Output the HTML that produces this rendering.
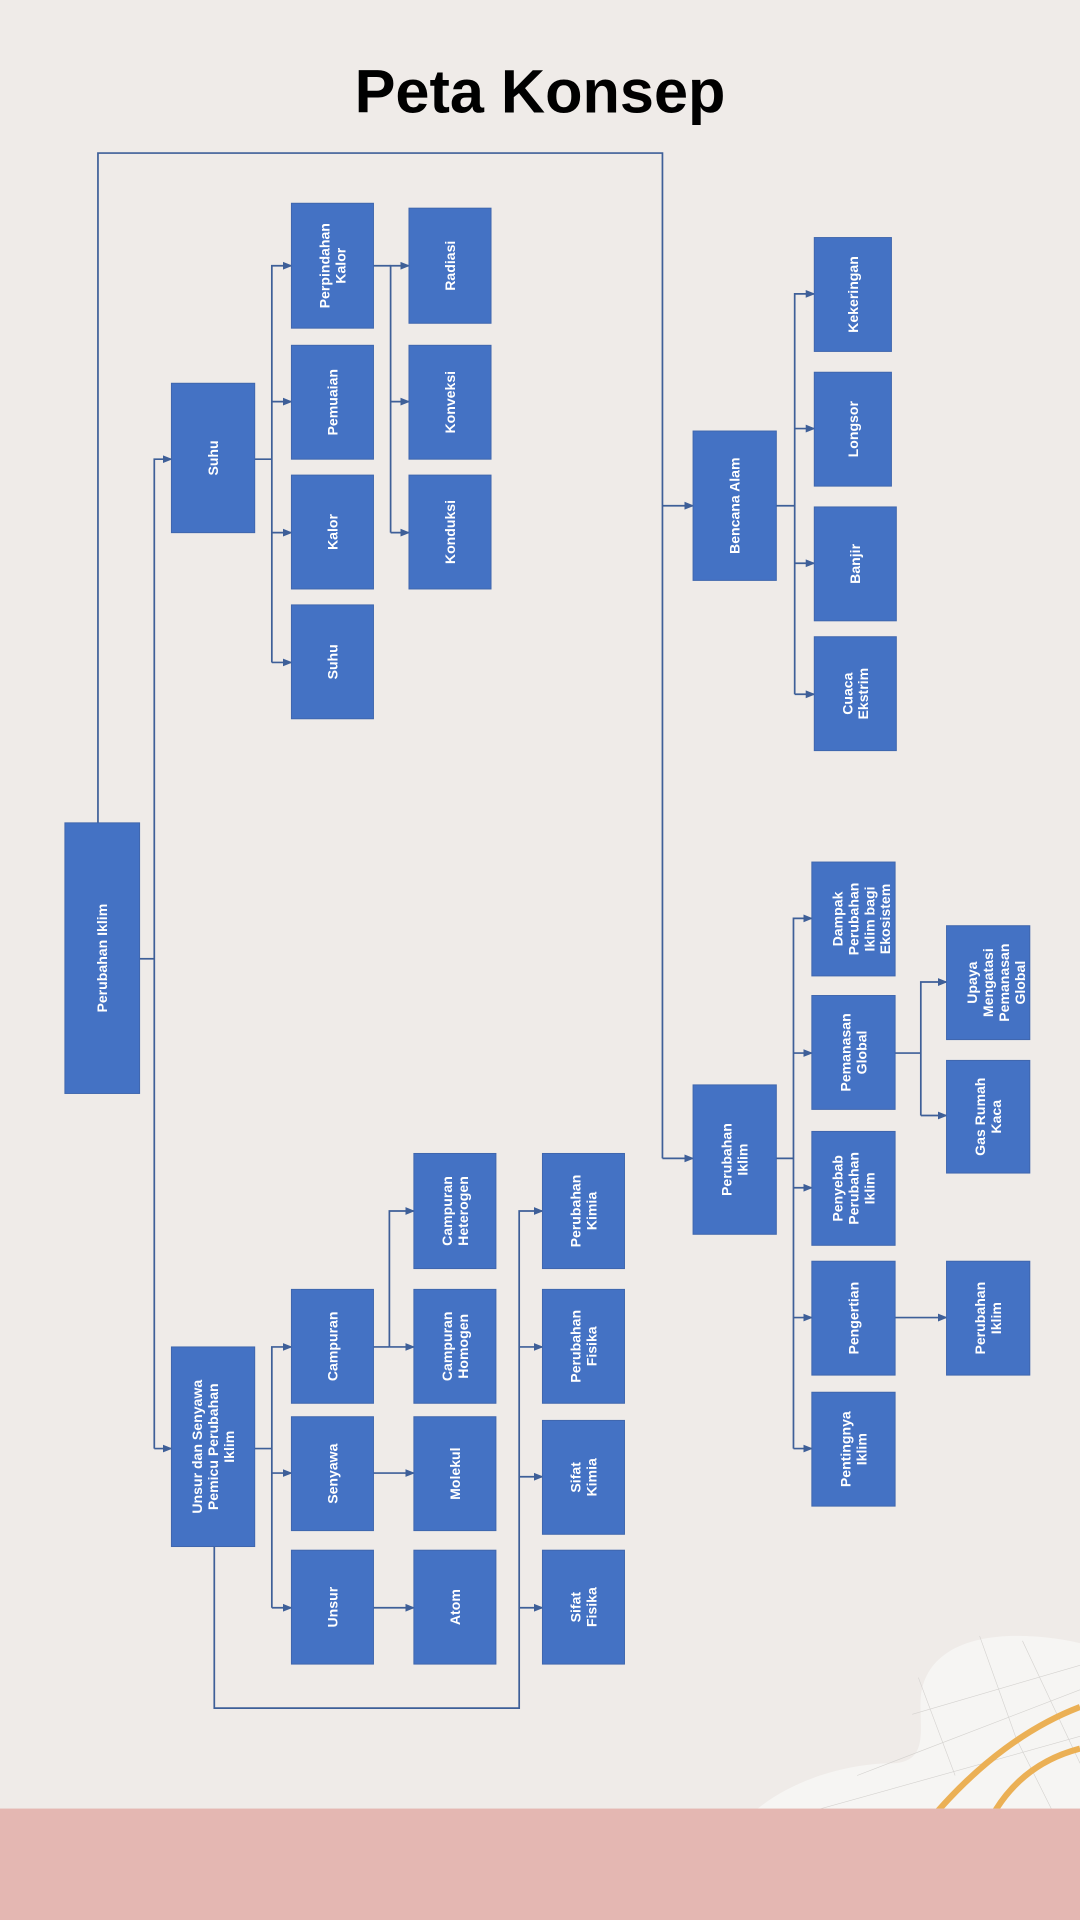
<!DOCTYPE html>
<html><head><meta charset="utf-8"><style>
html,body{margin:0;padding:0;background:#EFEBE8;}
svg{display:block;}
.b{fill:#4472C4;stroke:#3f66ad;stroke-width:0.8;}
.t{fill:#fff;font-family:"Liberation Sans",sans-serif;font-size:11.5px;font-weight:bold;}
.l{fill:none;stroke:#3E5F98;stroke-width:1.4;}
</style></head><body>
<svg width="1080" height="1920" viewBox="0 0 882 1568" xmlns="http://www.w3.org/2000/svg">
<defs>
<marker id="a" markerWidth="8" markerHeight="8" refX="7" refY="4" orient="auto" markerUnits="userSpaceOnUse">
<path d="M0,0.8 L8,4 L0,7.2 z" fill="#3E5F98"/></marker>
<clipPath id="cb"><rect x="0" y="0" width="882" height="1477"/></clipPath>
</defs>
<rect width="882" height="1568" fill="#EFEBE8"/>
<g clip-path="url(#cb)">
<path d="M610,1485 C640,1455 690,1440 730,1440 C760,1438 750,1410 752,1385 C756,1350 790,1336 830,1336 C860,1336 882,1342 882,1342 L882,1480 Z" fill="#F6F5F3"/>
<g stroke="#d4d2cf" stroke-width="0.5" fill="none">
<path d="M660,1480 L882,1418"/><path d="M700,1450 L882,1380"/><path d="M745,1400 L882,1360"/>
<path d="M800,1336 L830,1420 L860,1480"/><path d="M750,1370 L780,1450"/><path d="M835,1340 L882,1440"/>
</g>
<path d="M765,1480 C800,1440 840,1410 882,1394" fill="none" stroke="#EBB055" stroke-width="5"/>
<path d="M812,1480 C830,1450 855,1435 882,1428" fill="none" stroke="#EBB055" stroke-width="5"/>
</g>
<rect x="0" y="1477" width="882" height="91" fill="#E4B7B2"/>
<text x="441" y="92" text-anchor="middle" font-family="Liberation Sans, sans-serif" font-size="50" font-weight="bold" fill="#000">Peta Konsep</text>

<g class="l">
<path d="M80,672 V125 H541 V946"/>
<path d="M541,413 H566" marker-end="url(#a)"/>
<path d="M541,946 H566" marker-end="url(#a)"/>
<path d="M114,783 H126"/>
<path d="M126,1183 V375 H140" marker-end="url(#a)"/>
<path d="M126,1183 H140" marker-end="url(#a)"/>
<path d="M208,375 H222"/>
<path d="M222,541 V217 H238" marker-end="url(#a)"/>
<path d="M222,328 H238" marker-end="url(#a)"/>
<path d="M222,435 H238" marker-end="url(#a)"/>
<path d="M222,541 H238" marker-end="url(#a)"/>
<path d="M305,217 H319"/>
<path d="M319,435 V217 H334" marker-end="url(#a)"/>
<path d="M319,328 H334" marker-end="url(#a)"/>
<path d="M319,435 H334" marker-end="url(#a)"/>
<path d="M208,1183 H222"/>
<path d="M222,1313 V1100 H238" marker-end="url(#a)"/>
<path d="M222,1203 H238" marker-end="url(#a)"/>
<path d="M222,1313 H238" marker-end="url(#a)"/>
<path d="M305,1100 H318"/>
<path d="M318,1100 V989 H338" marker-end="url(#a)"/>
<path d="M318,1100 H338" marker-end="url(#a)"/>
<path d="M305,1203 H338" marker-end="url(#a)"/>
<path d="M305,1313 H338" marker-end="url(#a)"/>
<path d="M175,1263 V1395 H424 V989 H443" marker-end="url(#a)"/>
<path d="M424,1100 H443" marker-end="url(#a)"/>
<path d="M424,1206 H443" marker-end="url(#a)"/>
<path d="M424,1313 H443" marker-end="url(#a)"/>
<path d="M634,413 H649"/>
<path d="M649,567 V240 H665" marker-end="url(#a)"/>
<path d="M649,350 H665" marker-end="url(#a)"/>
<path d="M649,460 H665" marker-end="url(#a)"/>
<path d="M649,567 H665" marker-end="url(#a)"/>
<path d="M634,946 H648"/>
<path d="M648,1183 V750 H663" marker-end="url(#a)"/>
<path d="M648,860 H663" marker-end="url(#a)"/>
<path d="M648,970 H663" marker-end="url(#a)"/>
<path d="M648,1076 H663" marker-end="url(#a)"/>
<path d="M648,1183 H663" marker-end="url(#a)"/>
<path d="M731,860 H752"/>
<path d="M752,911 V802 H773" marker-end="url(#a)"/>
<path d="M752,911 H773" marker-end="url(#a)"/>
<path d="M731,1076 H773" marker-end="url(#a)"/>
</g>

<g>
<rect class="b" x="53" y="672" width="61" height="221"/>
<text class="t" transform="translate(83.5,782.5) rotate(-90)" text-anchor="middle" dy="4">Perubahan Iklim</text>

<rect class="b" x="140" y="313" width="68" height="122"/>
<text class="t" transform="translate(174,374) rotate(-90)" text-anchor="middle" dy="4">Suhu</text>

<rect class="b" x="238" y="166" width="67" height="102"/>
<text class="t" transform="translate(271.5,217) rotate(-90)" text-anchor="middle"><tspan x="0" dy="-2.5">Perpindahan</tspan><tspan x="0" dy="13">Kalor</tspan></text>
<rect class="b" x="238" y="282" width="67" height="93"/>
<text class="t" transform="translate(271.5,328.5) rotate(-90)" text-anchor="middle" dy="4">Pemuaian</text>
<rect class="b" x="238" y="388" width="67" height="93"/>
<text class="t" transform="translate(271.5,434.5) rotate(-90)" text-anchor="middle" dy="4">Kalor</text>
<rect class="b" x="238" y="494" width="67" height="93"/>
<text class="t" transform="translate(271.5,540.5) rotate(-90)" text-anchor="middle" dy="4">Suhu</text>

<rect class="b" x="334" y="170" width="67" height="94"/>
<text class="t" transform="translate(367.5,217) rotate(-90)" text-anchor="middle" dy="4">Radiasi</text>
<rect class="b" x="334" y="282" width="67" height="93"/>
<text class="t" transform="translate(367.5,328.5) rotate(-90)" text-anchor="middle" dy="4">Konveksi</text>
<rect class="b" x="334" y="388" width="67" height="93"/>
<text class="t" transform="translate(367.5,434.5) rotate(-90)" text-anchor="middle" dy="4">Konduksi</text>

<rect class="b" x="140" y="1100" width="68" height="163"/>
<text class="t" transform="translate(174,1181.5) rotate(-90)" text-anchor="middle"><tspan x="0" dy="-9">Unsur dan Senyawa</tspan><tspan x="0" dy="13">Pemicu Perubahan</tspan><tspan x="0" dy="13">Iklim</tspan></text>

<rect class="b" x="238" y="1053" width="67" height="93"/>
<text class="t" transform="translate(271.5,1099.5) rotate(-90)" text-anchor="middle" dy="4">Campuran</text>
<rect class="b" x="238" y="1157" width="67" height="93"/>
<text class="t" transform="translate(271.5,1203.5) rotate(-90)" text-anchor="middle" dy="4">Senyawa</text>
<rect class="b" x="238" y="1266" width="67" height="93"/>
<text class="t" transform="translate(271.5,1312.5) rotate(-90)" text-anchor="middle" dy="4">Unsur</text>

<rect class="b" x="338" y="942" width="67" height="94"/>
<text class="t" transform="translate(371.5,989) rotate(-90)" text-anchor="middle"><tspan x="0" dy="-2.5">Campuran</tspan><tspan x="0" dy="13">Heterogen</tspan></text>
<rect class="b" x="338" y="1053" width="67" height="93"/>
<text class="t" transform="translate(371.5,1099.5) rotate(-90)" text-anchor="middle"><tspan x="0" dy="-2.5">Campuran</tspan><tspan x="0" dy="13">Homogen</tspan></text>
<rect class="b" x="338" y="1157" width="67" height="93"/>
<text class="t" transform="translate(371.5,1203.5) rotate(-90)" text-anchor="middle" dy="4">Molekul</text>
<rect class="b" x="338" y="1266" width="67" height="93"/>
<text class="t" transform="translate(371.5,1312.5) rotate(-90)" text-anchor="middle" dy="4">Atom</text>

<rect class="b" x="443" y="942" width="67" height="94"/>
<text class="t" transform="translate(476.5,989) rotate(-90)" text-anchor="middle"><tspan x="0" dy="-2.5">Perubahan</tspan><tspan x="0" dy="13">Kimia</tspan></text>
<rect class="b" x="443" y="1053" width="67" height="93"/>
<text class="t" transform="translate(476.5,1099.5) rotate(-90)" text-anchor="middle"><tspan x="0" dy="-2.5">Perubahan</tspan><tspan x="0" dy="13">Fisika</tspan></text>
<rect class="b" x="443" y="1160" width="67" height="93"/>
<text class="t" transform="translate(476.5,1206.5) rotate(-90)" text-anchor="middle"><tspan x="0" dy="-2.5">Sifat</tspan><tspan x="0" dy="13">Kimia</tspan></text>
<rect class="b" x="443" y="1266" width="67" height="93"/>
<text class="t" transform="translate(476.5,1312.5) rotate(-90)" text-anchor="middle"><tspan x="0" dy="-2.5">Sifat</tspan><tspan x="0" dy="13">Fisika</tspan></text>

<rect class="b" x="566" y="352" width="68" height="122"/>
<text class="t" transform="translate(600,413) rotate(-90)" text-anchor="middle" dy="4">Bencana Alam</text>

<rect class="b" x="665" y="194" width="63" height="93"/>
<text class="t" transform="translate(696.5,240.5) rotate(-90)" text-anchor="middle" dy="4">Kekeringan</text>
<rect class="b" x="665" y="304" width="63" height="93"/>
<text class="t" transform="translate(696.5,350.5) rotate(-90)" text-anchor="middle" dy="4">Longsor</text>
<rect class="b" x="665" y="414" width="67" height="93"/>
<text class="t" transform="translate(698.5,460.5) rotate(-90)" text-anchor="middle" dy="4">Banjir</text>
<rect class="b" x="665" y="520" width="67" height="93"/>
<text class="t" transform="translate(698.5,566.5) rotate(-90)" text-anchor="middle"><tspan x="0" dy="-2.5">Cuaca</tspan><tspan x="0" dy="13">Ekstrim</tspan></text>

<rect class="b" x="566" y="886" width="68" height="122"/>
<text class="t" transform="translate(600,947) rotate(-90)" text-anchor="middle"><tspan x="0" dy="-2.5">Perubahan</tspan><tspan x="0" dy="13">Iklim</tspan></text>

<rect class="b" x="663" y="704" width="68" height="93"/>
<text class="t" transform="translate(697,750.5) rotate(-90)" text-anchor="middle"><tspan x="0" dy="-9">Dampak</tspan><tspan x="0" dy="13">Perubahan</tspan><tspan x="0" dy="13">Iklim bagi</tspan><tspan x="0" dy="13">Ekosistem</tspan></text>
<rect class="b" x="663" y="813" width="68" height="93"/>
<text class="t" transform="translate(697,859.5) rotate(-90)" text-anchor="middle"><tspan x="0" dy="-2.5">Pemanasan</tspan><tspan x="0" dy="13">Global</tspan></text>
<rect class="b" x="663" y="924" width="68" height="93"/>
<text class="t" transform="translate(697,970.5) rotate(-90)" text-anchor="middle"><tspan x="0" dy="-9">Penyebab</tspan><tspan x="0" dy="13">Perubahan</tspan><tspan x="0" dy="13">Iklim</tspan></text>
<rect class="b" x="663" y="1030" width="68" height="93"/>
<text class="t" transform="translate(697,1076.5) rotate(-90)" text-anchor="middle" dy="4">Pengertian</text>
<rect class="b" x="663" y="1137" width="68" height="93"/>
<text class="t" transform="translate(697,1183.5) rotate(-90)" text-anchor="middle"><tspan x="0" dy="-2.5">Pentingnya</tspan><tspan x="0" dy="13">Iklim</tspan></text>

<rect class="b" x="773" y="756" width="68" height="93"/>
<text class="t" transform="translate(807,802.5) rotate(-90)" text-anchor="middle"><tspan x="0" dy="-9">Upaya</tspan><tspan x="0" dy="13">Mengatasi</tspan><tspan x="0" dy="13">Pemanasan</tspan><tspan x="0" dy="13">Global</tspan></text>
<rect class="b" x="773" y="866" width="68" height="92"/>
<text class="t" transform="translate(807,912) rotate(-90)" text-anchor="middle"><tspan x="0" dy="-2.5">Gas Rumah</tspan><tspan x="0" dy="13">Kaca</tspan></text>
<rect class="b" x="773" y="1030" width="68" height="93"/>
<text class="t" transform="translate(807,1076.5) rotate(-90)" text-anchor="middle"><tspan x="0" dy="-2.5">Perubahan</tspan><tspan x="0" dy="13">Iklim</tspan></text>
</g>
</svg>
</body></html>
